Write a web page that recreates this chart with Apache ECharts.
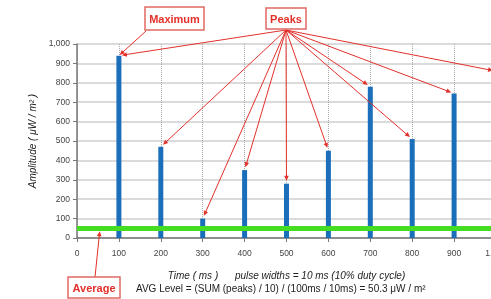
<!DOCTYPE html>
<html>
<head>
<meta charset="utf-8">
<script src="https://cdn.jsdelivr.net/npm/echarts@6/dist/echarts.min.js"></script>
<style>
  html, body { margin: 0; padding: 0; background: #fff; }
  #chart { width: 491px; height: 299px; }
</style>
</head>
<body>
<div id="chart"></div>
<script>
// pulse times (ms) and peak amplitudes (uW / m2)
const times = [100, 200, 300, 400, 500, 600, 700, 800, 900, 1000];
const amplitudes = [940, 470, 100, 350, 280, 450, 780, 510, 745, 860];
const averageLevel = 50.3;

const red = '#e2302b';
const font = 'Liberation Sans, Arial, sans-serif';
const fmt = v => v.toLocaleString('en-US');

const chart = echarts.init(document.getElementById('chart'));

chart.setOption({
  animation: false,
  grid: { left: 77, right: -5, top: 44, bottom: 61, outerBoundsMode: 'none' },
  title: {
    text: 'AVG Level = (SUM (peaks) / 10) / (100ms / 10ms) = 50.3 \u03bcW / m\u00b2',
    left: 136,
    top: 284,
    padding: 0,
    textStyle: { fontSize: 10, fontWeight: 'normal', color: '#222', fontFamily: font },
  },
  xAxis: {
    type: 'value',
    min: 0,
    max: 1000,
    interval: 100,
    name: 'Time ( ms )      pulse widths = 10 ms (10% duty cycle)',
    nameLocation: 'middle',
    nameGap: 33,
    nameTextStyle: { fontSize: 10, fontStyle: 'italic', color: '#222', fontFamily: font },
    axisLine: { lineStyle: { color: '#777', width: 1.5 } },
    axisTick: { show: true, length: 4, lineStyle: { color: '#777' } },
    axisLabel: { fontSize: 8.5, color: '#444', margin: 11, formatter: fmt, fontFamily: font },
    splitLine: { show: true, lineStyle: { color: '#a8a8a8', type: 'dotted', width: 1 } },
  },
  yAxis: {
    type: 'value',
    min: 0,
    max: 1000,
    interval: 100,
    name: 'Amplitude ( \u03bcW / m\u00b2 )',
    nameLocation: 'middle',
    nameGap: 35,
    nameTextStyle: { fontSize: 10, fontStyle: 'italic', color: '#222', fontFamily: font },
    axisLine: { show: true, lineStyle: { color: '#777', width: 1.5 } },
    axisTick: { show: true, length: 4, lineStyle: { color: '#777' } },
    axisLabel: { fontSize: 8.5, color: '#444', margin: 7, formatter: fmt, fontFamily: font },
    splitLine: { show: true, lineStyle: { color: '#cfcfcf', width: 1.5 } },
  },
  series: [
    {
      type: 'bar',
      barWidth: 5,
      itemStyle: { color: '#1b6fba' },
      data: times.map((t, i) => [t, amplitudes[i]]),
      markLine: {
        silent: true,
        symbol: ['none', 'none'],
        label: { show: false },
        lineStyle: { color: '#44dd22', width: 5, type: 'solid' },
        data: [{ yAxis: averageLevel }],
        z: 10,
      },
    },
  ],
});

function arrow(x0, y0, x1, y1, back) {
  const a = Math.atan2(y1 - y0, x1 - x0);
  const c = Math.cos(a), s = Math.sin(a);
  const ex = x1 - back * c, ey = y1 - back * s;
  const len = 5, w = 2.3;
  const pts = [
    [ex, ey],
    [ex - len * c + w * s, ey - len * s - w * c],
    [ex - len * c - w * s, ey - len * s + w * c],
  ];
  return [
    { type: 'line', z: 50, silent: true, shape: { x1: x0, y1: y0, x2: ex - 2 * c, y2: ey - 2 * s }, style: { stroke: red, lineWidth: 1 } },
    { type: 'polygon', z: 50, silent: true, shape: { points: pts }, style: { fill: red } },
  ];
}

function box(label, x, y, w, h) {
  return {
    type: 'group', x: x, y: y, z: 60,
    children: [
      { type: 'rect', z: 60, shape: { x: 0, y: 0, width: w, height: h }, style: { fill: '#fff', stroke: '#e06a66', lineWidth: 1.5 } },
      { type: 'text', z: 61, x: w / 2, y: h / 2 + 1, style: { text: label, fill: red, font: 'bold 11px ' + font, align: 'center', verticalAlign: 'middle' } },
    ],
  };
}

const elements = [];
const peaksFrom = [286, 30];
times.forEach((t, i) => {
  const p = chart.convertToPixel({ gridIndex: 0 }, [t, amplitudes[i]]);
  elements.push(...arrow(peaksFrom[0], peaksFrom[1], p[0], p[1], 3));
});
const maxTop = chart.convertToPixel({ gridIndex: 0 }, [times[0], amplitudes[0]]);
elements.push(...arrow(146, 31, maxTop[0], maxTop[1], 1));
const avgPt = chart.convertToPixel({ gridIndex: 0 }, [55, averageLevel]);
elements.push(...arrow(95, 277, avgPt[0], avgPt[1], 3));

elements.push(box('Maximum', 145, 7, 59, 23));
elements.push(box('Peaks', 266, 8, 40, 21));
elements.push(box('Average', 68, 277, 52, 21));

chart.setOption({ graphic: { elements: elements } });
</script>
</body>
</html>
